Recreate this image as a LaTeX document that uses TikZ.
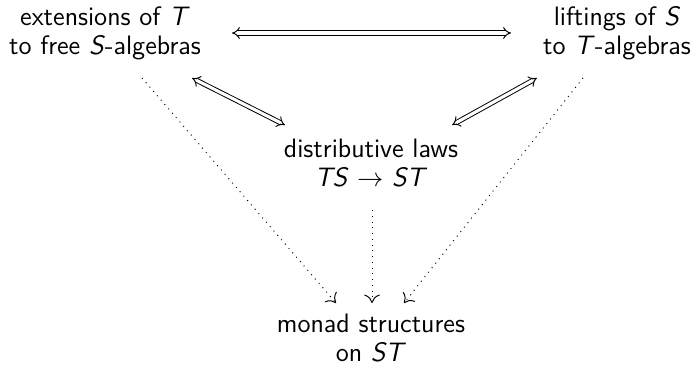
\documentclass[tikz,border=0pt]{standalone}
\usetikzlibrary{arrows.meta}
\begin{document}
\begin{tikzpicture}[x=0.41667pt,y=-0.41667pt,
  lbl/.style={align=center,inner sep=0pt,font=\fontsize{11.1}{12}\selectfont\sffamily},
  dbl/.style={double,double distance=1.3pt,line width=0.4pt,{Implies}-{Implies}},
  dots/.style={dotted,line width=0.4pt,-{Computer Modern Rightarrow[length=3.5pt,width=6.5pt]}}]
\useasboundingbox (0,0) rectangle (694,373);
\node[lbl] (ext) at (105,33) {extensions of \textit{T}\\to free \textit{S}-algebras};
\node[lbl] (lift) at (617,33) {liftings of \textit{S}\\to \textit{T}-algebras};
\node[lbl] (dist) at (371,163) {distributive laws\\\textit{TS} $\rightarrow$ \textit{ST}};
\node[lbl] (mon) at (371,338) {monad structures\\on \textit{ST}};
\coordinate (h1) at (232,33);
\coordinate (h2) at (511,33);
\coordinate (l1) at (192,78);
\coordinate (l2) at (285,125);
\coordinate (r1) at (537,78);
\coordinate (r2) at (452,125);
\coordinate (dl1) at (142,78);
\coordinate (dl2) at (336,303);
\coordinate (dm1) at (372,210);
\coordinate (dm2) at (372,303);
\coordinate (dr1) at (583,78);
\coordinate (dr2) at (404,303);
\draw[dbl] (h1) -- (h2);
\draw[dbl] (l1) -- (l2);
\draw[dbl] (r1) -- (r2);
\draw[dots] (dl1) -- (dl2);
\draw[dots] (dm1) -- (dm2);
\draw[dots] (dr1) -- (dr2);
\end{tikzpicture}
\end{document}
